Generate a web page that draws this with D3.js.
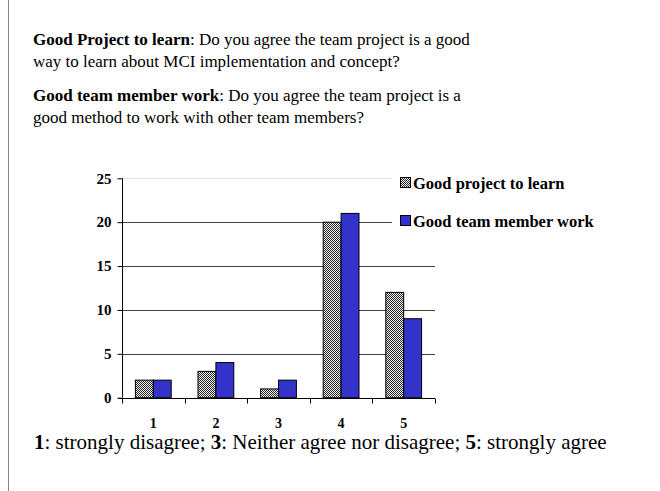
<!DOCTYPE html>
<html><head><meta charset="utf-8">
<script src="https://cdn.jsdelivr.net/npm/d3@7"></script>
<style>
html,body{margin:0;padding:0;background:#fff;}
svg{display:block;}
text{font-family:"Liberation Serif","Times New Roman",serif;}
</style></head>
<body>
<svg id="chart" width="660" height="491"></svg>
<script>
const categories = ["1","2","3","4","5"];
const seriesNames = ["Good project to learn","Good team member work"];
const projectToLearn = [2,3,1,20,12];
const teamMemberWork = [2,4,2,21,9];
const yTicks = [0,5,10,15,20,25];

const svg = d3.select("#chart");
const defs = svg.append("defs");
const pat = defs.append("pattern").attr("id","checker").attr("patternUnits","userSpaceOnUse")
  .attr("width",2).attr("height",2);
pat.append("rect").attr("width",2).attr("height",2).attr("fill","#eeeeee");
pat.append("rect").attr("x",0).attr("y",0).attr("width",1).attr("height",1).attr("fill","#2a2a2a");
pat.append("rect").attr("x",1).attr("y",1).attr("width",1).attr("height",1).attr("fill","#2a2a2a");

// left border line
svg.append("line").attr("x1",8.5).attr("x2",8.5).attr("y1",0).attr("y2",491)
  .attr("stroke","#888").attr("stroke-width",1);

// header text
const header = [
  {b:"Good Project to learn", r:": Do you agree the team project is a good", y:45},
  {b:"", r:"way to learn about MCI implementation and concept?", y:67},
  {b:"Good team member work", r:": Do you agree the team project is a", y:101},
  {b:"", r:"good method to work with other team members?", y:123}
];
header.forEach(h=>{
  const t = svg.append("text").attr("x",33).attr("y",h.y).attr("font-size",17).attr("fill","#000");
  if(h.b) t.append("tspan").attr("font-weight","bold").text(h.b);
  t.append("tspan").text(h.r);
});

const x0 = d3.scaleBand().domain(categories).range([122,435]).paddingInner(0).paddingOuter(0);
const x1 = d3.scaleBand().domain(seriesNames).range([13.4, x0.bandwidth()-13.4]);
const y = d3.scaleLinear().domain([0,25]).range([397.7,178.3]);

// gridlines
svg.append("g").selectAll("line").data(yTicks.filter(d=>d>0)).join("line")
  .attr("x1",122).attr("x2",435)
  .attr("y1",d=>Math.round(y(d))+0.5).attr("y2",d=>Math.round(y(d))+0.5)
  .attr("stroke",d=>d===25?"#e4e4e4":"#444").attr("stroke-width",1);

// bars
const data = categories.map((c,i)=>({c, vals:[projectToLearn[i], teamMemberWork[i]]}));
const g = svg.append("g");
data.forEach(d=>{
  d.vals.forEach((v,j)=>{
    g.append("rect")
      .attr("x",x0(d.c)+x1(seriesNames[j]))
      .attr("y",y(v))
      .attr("width",x1.bandwidth())
      .attr("height",y(0)-y(v))
      .attr("fill", j===0?"url(#checker)":"#3333CC")
      .attr("stroke","#000").attr("stroke-width",1);
  });
});

// y axis
const yAxis = d3.axisLeft(y).tickValues(yTicks).tickSize(5).tickPadding(6);
const ya = svg.append("g").attr("transform","translate(122.5,0)").call(yAxis);
ya.attr("font-family",null).attr("font-size",null);
ya.select(".domain").attr("stroke","#000").attr("d","M0,"+y(25)+"V"+y(0));
ya.selectAll("text").style("font-family","'Liberation Serif'").style("font-weight","bold").style("font-size","15px").attr("fill","#000");
ya.selectAll("line").attr("stroke","#000");

// x axis
const xa = svg.append("g").attr("transform","translate(0,"+(Math.round(y(0))+0.5)+")");
xa.append("line").attr("x1",118).attr("x2",435).attr("stroke","#000");
const bounds = categories.map(c=>x0(c)).concat([x0.range()[1]]);
xa.selectAll(".tk").data(bounds).join("line").attr("class","tk")
  .attr("x1",d=>Math.round(d)+0.5).attr("x2",d=>Math.round(d)+0.5).attr("y1",0).attr("y2",5).attr("stroke","#000");
xa.selectAll(".lb").data(categories).join("text").attr("class","lb")
  .attr("x",d=>x0(d)+x0.bandwidth()/2).attr("y",29)
  .attr("text-anchor","middle").style("font-weight","bold").style("font-size","14px").text(d=>d);

// legend
const lg = svg.append("g");
lg.append("rect").attr("x",392).attr("y",168).attr("width",230).attr("height",68).attr("fill","#fff");
seriesNames.forEach((s,i)=>{
  const ly = [183,221][i];
  lg.append("rect").attr("x",400.5).attr("y",ly-5.5).attr("width",10).attr("height",10)
    .attr("fill", i===0?"url(#checker)":"#3333CC").attr("stroke","#000");
  lg.append("text").attr("x",413).attr("y",ly+5.5).style("font-weight","bold").style("font-size","16.5px").text(s);
});

// footer
const ft = svg.append("text").attr("x",34).attr("y",449).style("font-size","21px");
[["1",true],[": strongly disagree; ",false],["3",true],[": Neither agree nor disagree; ",false],["5",true],[": strongly agree",false]]
  .forEach(p=>ft.append("tspan").style("font-weight",p[1]?"bold":null).text(p[0]));
</script>
</body></html>
